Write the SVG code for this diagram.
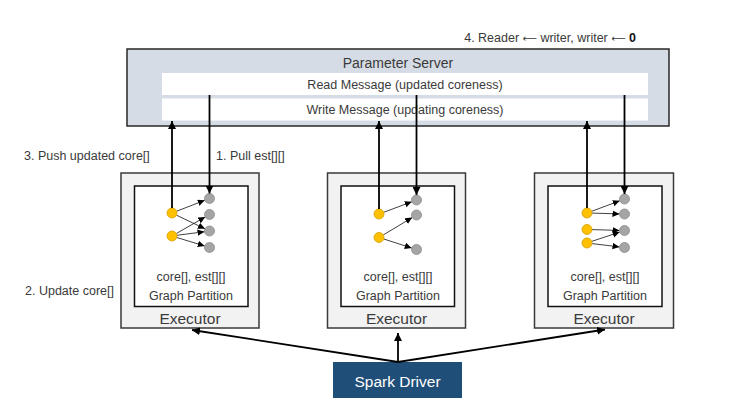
<svg xmlns="http://www.w3.org/2000/svg" width="737" height="412" viewBox="0 0 737 412">
<defs>
<style>
text{font-family:"Liberation Sans","Noto Sans",Arial,sans-serif;fill:#3a3a3a}
.arr{font-family:"DejaVu Sans",sans-serif;font-size:10px}
.ps{fill:#D6DCE5;stroke:#1a1a1a;stroke-width:1.4}
.bar{fill:#fff;stroke:none}
.exec{fill:#F2F2F2;stroke:#3a3a3a;stroke-width:1.5}
.part{fill:#fff;stroke:#111;stroke-width:1.5}
.y{fill:#FFC000;stroke:#D4A000;stroke-width:0.8}
.g{fill:#A5A5A5;stroke:#8a8a8a;stroke-width:0.8}
.big{stroke:#000;stroke-width:1.8;fill:none}
.sm{stroke:#111;stroke-width:0.8;fill:none;marker-end:url(#ah)}
.up{marker-end:url(#AH)}
</style>
<marker id="AH" markerUnits="userSpaceOnUse" markerWidth="9" markerHeight="8" refX="8" refY="4" orient="auto">
<path d="M0,0 L8,4 L0,8 Z" fill="#000"/>
</marker>
<marker id="ah" markerUnits="userSpaceOnUse" markerWidth="8" markerHeight="7" refX="7" refY="3.25" orient="auto">
<path d="M0,0 L7,3.25 L0,6.5 Z" fill="#000"/>
</marker>
</defs>
<rect width="737" height="412" fill="#fff"/>

<text x="636" y="41.5" font-size="12.5" text-anchor="end">4. Reader <tspan class="arr">⟵</tspan> writer, writer <tspan class="arr">⟵</tspan> <tspan font-weight="bold" fill="#111">0</tspan></text>

<g id="parameter-server">
<rect class="ps" x="127" y="49" width="542" height="77"/>
<text x="398" y="67.5" font-size="14" text-anchor="middle">Parameter Server</text>
<g id="read-message">
<rect class="bar" x="162" y="73" width="486" height="22"/>
<text x="405" y="88.5" font-size="12.5" text-anchor="middle">Read Message (updated coreness)</text>
</g>
<g id="write-message">
<rect class="bar" x="162" y="98.5" width="486" height="22"/>
<text x="405" y="114" font-size="12.5" text-anchor="middle">Write Message (updating coreness)</text>
</g>
</g>

<text x="24" y="160" font-size="12.5">3. Push updated core[]</text>
<text x="216" y="160" font-size="12.5">1. Pull est[][]</text>
<text x="25" y="295" font-size="12.5">2. Update core[]</text>

<g id="executor-1">
<rect class="exec" x="121" y="173" width="138" height="155"/>
<rect class="part" x="134.5" y="186" width="113.5" height="120.5"/>
<text x="191" y="280.5" font-size="12.5" text-anchor="middle">core[], est[][]</text>
<text x="191" y="300" font-size="12.5" text-anchor="middle">Graph Partition</text>
<text x="190" y="323.5" font-size="15.5" text-anchor="middle">Executor</text>
<g class="edges">
<line class="sm" x1="176.7" y1="211.2" x2="204.8" y2="200.3"/>
<line class="sm" x1="176.5" y1="215.2" x2="205" y2="228.8"/>
<line class="sm" x1="176.3" y1="233.5" x2="205.2" y2="217"/>
<line class="sm" x1="177" y1="235.3" x2="204.5" y2="231.7"/>
<line class="sm" x1="176.8" y1="237.5" x2="204.7" y2="246"/>
</g>
<circle class="y" cx="172" cy="213" r="5"/>
<circle class="y" cx="172" cy="236" r="5"/>
<circle class="g" cx="209.5" cy="198.5" r="5"/>
<circle class="g" cx="209.5" cy="214.5" r="5"/>
<circle class="g" cx="209.5" cy="231" r="5"/>
<circle class="g" cx="209.5" cy="247.5" r="5"/>
</g>

<g id="executor-2">
<rect class="exec" x="327.5" y="173" width="138" height="155"/>
<rect class="part" x="341" y="186" width="113.5" height="120.5"/>
<text x="398" y="280.5" font-size="12.5" text-anchor="middle">core[], est[][]</text>
<text x="398" y="300" font-size="12.5" text-anchor="middle">Graph Partition</text>
<text x="396.5" y="323.5" font-size="15.5" text-anchor="middle">Executor</text>
<g class="edges">
<line class="sm" x1="383.7" y1="212.3" x2="411.8" y2="201.75"/>
<line class="sm" x1="383.3" y1="234.9" x2="412.2" y2="217.6"/>
<line class="sm" x1="383.8" y1="239" x2="411.7" y2="248"/>
</g>
<circle class="y" cx="379" cy="214" r="5"/>
<circle class="y" cx="379" cy="237.5" r="5"/>
<circle class="g" cx="416.5" cy="200" r="5"/>
<circle class="g" cx="416.5" cy="215" r="5"/>
<circle class="g" cx="416.5" cy="249.5" r="5"/>
</g>

<g id="executor-3">
<rect class="exec" x="534.5" y="173" width="139" height="155"/>
<rect class="part" x="548" y="186" width="114" height="120.5"/>
<text x="605" y="280.5" font-size="12.5" text-anchor="middle">core[], est[][]</text>
<text x="605" y="300" font-size="12.5" text-anchor="middle">Graph Partition</text>
<text x="604" y="323.5" font-size="15.5" text-anchor="middle">Executor</text>
<g class="edges">
<line class="sm" x1="591.7" y1="211.3" x2="619.8" y2="200.75"/>
<line class="sm" x1="592" y1="213.1" x2="619.5" y2="213.9"/>
<line class="sm" x1="592" y1="229.6" x2="619.5" y2="230.4"/>
<line class="sm" x1="591.7" y1="241.4" x2="619.75" y2="232.1"/>
<line class="sm" x1="592" y1="243.6" x2="619.5" y2="246.9"/>
</g>
<circle class="y" cx="587" cy="213" r="5"/>
<circle class="y" cx="587" cy="229.5" r="5"/>
<circle class="y" cx="587" cy="243" r="5"/>
<circle class="g" cx="624.5" cy="199" r="5"/>
<circle class="g" cx="624.5" cy="214" r="5"/>
<circle class="g" cx="624.5" cy="230.5" r="5"/>
<circle class="g" cx="624.5" cy="247.5" r="5"/>
</g>

<g id="spark-driver">
<rect x="333" y="362" width="129" height="36" fill="#1F4E79"/>
<text x="397.5" y="386.5" font-size="15.5" text-anchor="middle" style="fill:#fff">Spark Driver</text>
</g>

<g id="connectors">
<line class="big up" x1="172" y1="208" x2="172" y2="121"/>
<line class="big up" x1="209.5" y1="95" x2="209.5" y2="193.5"/>
<line class="big up" x1="379" y1="209" x2="379" y2="121"/>
<line class="big up" x1="416.5" y1="95" x2="416.5" y2="195"/>
<line class="big up" x1="587" y1="208" x2="587" y2="121"/>
<line class="big up" x1="624.5" y1="95" x2="624.5" y2="194"/>
<line class="big up" x1="398" y1="362" x2="192" y2="330"/>
<line class="big up" x1="398" y1="362" x2="398" y2="333"/>
<line class="big up" x1="398" y1="362" x2="605" y2="329.5"/>
</g>
</svg>
